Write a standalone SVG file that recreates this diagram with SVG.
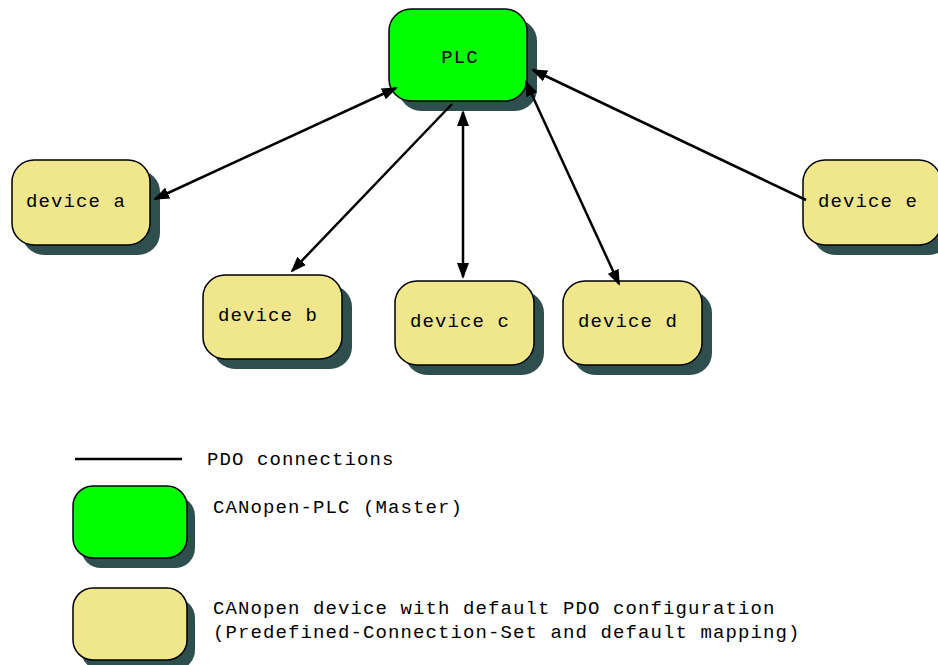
<svg xmlns="http://www.w3.org/2000/svg" width="938" height="665" viewBox="0 0 938 665">
<defs>
<style>
.sh{fill:#2f4f4f;stroke:none}
.plc{fill:#00ff00;stroke:#000;stroke-width:1.5}
.dev{fill:#f0e68c;stroke:#000;stroke-width:1.5}
.t{font-family:"Liberation Mono","Courier New",monospace;font-size:19px;letter-spacing:1.1px;fill:#000}
.c{stroke:#000;stroke-width:2.5;fill:none}
</style>
<marker id="ah" markerWidth="16" markerHeight="12" refX="14" refY="6" orient="auto-start-reverse" markerUnits="userSpaceOnUse">
<path d="M0,0 L16,6 L0,12 Z" fill="#000"/>
</marker>
</defs>
<rect width="938" height="665" fill="#fff"/>
<g id="plc">
<rect class="sh" x="399" y="19" width="138" height="92" rx="22"/>
<rect class="plc" x="389" y="9" width="138" height="92" rx="22"/>
<text class="t" x="460" y="63" text-anchor="middle">PLC</text>
</g>
<g id="device-a">
<rect class="sh" x="22" y="170" width="138" height="85" rx="22"/>
<rect class="dev" x="12" y="160" width="138" height="85" rx="22"/>
<text class="t" x="26" y="207">device a</text>
</g>
<g id="device-b">
<rect class="sh" x="213" y="285" width="139" height="84" rx="22"/>
<rect class="dev" x="203" y="275" width="139" height="84" rx="22"/>
<text class="t" x="218" y="321">device b</text>
</g>
<g id="device-c">
<rect class="sh" x="405" y="291" width="139" height="84" rx="22"/>
<rect class="dev" x="395" y="281" width="139" height="84" rx="22"/>
<text class="t" x="410" y="327">device c</text>
</g>
<g id="device-d">
<rect class="sh" x="573" y="291" width="139" height="84" rx="22"/>
<rect class="dev" x="563" y="281" width="139" height="84" rx="22"/>
<text class="t" x="578" y="327">device d</text>
</g>
<g id="device-e">
<rect class="sh" x="813" y="170" width="138" height="85" rx="22"/>
<rect class="dev" x="803" y="160" width="138" height="85" rx="22"/>
<text class="t" x="818" y="207">device e</text>
</g>
<g id="connectors">
<line class="c" x1="396" y1="88" x2="155" y2="199" marker-start="url(#ah)" marker-end="url(#ah)"/>
<line class="c" x1="452" y1="104" x2="292" y2="271" marker-end="url(#ah)"/>
<line class="c" x1="463" y1="112" x2="463" y2="277" marker-start="url(#ah)" marker-end="url(#ah)"/>
<line class="c" x1="526" y1="82" x2="619" y2="284" marker-start="url(#ah)" marker-end="url(#ah)"/>
<line class="c" x1="806" y1="200" x2="533" y2="70" marker-end="url(#ah)"/>
</g>
<g id="legend">
<line class="c" x1="75" y1="459" x2="182" y2="459"/>
<text class="t" x="207" y="465">PDO connections</text>
<rect class="sh" x="81" y="496" width="114" height="72" rx="20"/>
<rect class="plc" x="73" y="486" width="114" height="72" rx="20"/>
<text class="t" x="213" y="513">CANopen-PLC (Master)</text>
<rect class="sh" x="81" y="598" width="114" height="72" rx="20"/>
<rect class="dev" x="73" y="588" width="114" height="72" rx="20"/>
<text class="t" x="213" y="614">CANopen device with default PDO configuration</text>
<text class="t" x="213" y="638">(Predefined-Connection-Set and default mapping)</text>
</g>
</svg>
